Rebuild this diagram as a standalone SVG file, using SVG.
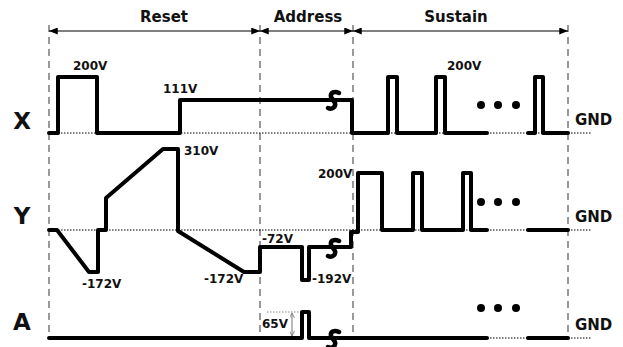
<svg xmlns="http://www.w3.org/2000/svg" width="623" height="347" viewBox="0 0 623 347">
<style>
.sig{fill:none;stroke:#000;stroke-width:4;stroke-linejoin:round;stroke-linecap:round}
.gnd{stroke:#000;stroke-width:1;stroke-dasharray:1.5 1.5;fill:none}
.vd{stroke:#808080;stroke-width:1.6;stroke-dasharray:7 5;fill:none}
.ph{stroke:#000;stroke-width:1.2;fill:none}
.t{font-family:"DejaVu Sans",Verdana,sans-serif;font-weight:bold;fill:#111}
.hdr{font-size:15px}
.row{font-size:23px}
.v{font-size:12px}
.g{font-size:15px}
.brk{fill:none;stroke:#000;stroke-width:4.5;stroke-linecap:round;stroke-linejoin:round}
.dot{fill:#000}
</style>
<defs>
<marker id="ah" viewBox="0 0 10 8" refX="10" refY="4" markerWidth="9" markerHeight="7" markerUnits="userSpaceOnUse" orient="auto-start-reverse">
<path d="M0,0 L10,4 L0,8 Z" fill="#000"/>
</marker>
<marker id="sa" viewBox="0 0 6 6" refX="6" refY="3" markerWidth="5" markerHeight="5" markerUnits="userSpaceOnUse" orient="auto-start-reverse">
<path d="M0,0 L6,3 L0,6" fill="none" stroke="#777" stroke-width="1"/>
</marker>
<path id="brk" class="brk" d="M6,-7 C2,-9 -3,-8 -2,-3 L2,3 C3,7 -1,10 -5,8"/>
</defs>

<g id="phases">
<line class="vd" x1="49" y1="25" x2="49" y2="338"/>
<line class="vd" x1="260" y1="25" x2="260" y2="338"/>
<line class="vd" x1="353" y1="25" x2="353" y2="338"/>
<line class="vd" x1="568" y1="25" x2="568" y2="338"/>
<line class="ph" x1="49" y1="31" x2="260" y2="31" marker-start="url(#ah)" marker-end="url(#ah)"/>
<line class="ph" x1="260" y1="31" x2="353" y2="31" marker-start="url(#ah)" marker-end="url(#ah)"/>
<line class="ph" x1="353" y1="31" x2="568" y2="31" marker-start="url(#ah)" marker-end="url(#ah)"/>
<text class="t hdr" x="164" y="22" text-anchor="middle">Reset</text>
<text class="t hdr" x="308" y="22" text-anchor="middle">Address</text>
<text class="t hdr" x="456" y="22" text-anchor="middle">Sustain</text>
</g>

<g id="gnd-lines">
<line class="gnd" x1="49" y1="133" x2="592" y2="133"/>
<line class="gnd" x1="49" y1="230" x2="592" y2="230"/>
<line class="gnd" x1="487" y1="338" x2="592" y2="338"/>
<text class="t g" x="575" y="125">GND</text>
<text class="t g" x="575" y="222">GND</text>
<text class="t g" x="575" y="330">GND</text>
</g>

<g id="X">
<text class="t row" x="22" y="129" text-anchor="middle">X</text>
<path class="sig" d="M49,133 H58 V77 H97 V133 H180 V100 H352 V133 H388 V77 H397 V133 H436 V77 H445 V133 H487"/>
<path class="sig" d="M528,133 H535 V77 H543 V133 H568"/>
<use href="#brk" x="333" y="100"/>
<circle class="dot" cx="481" cy="105" r="4"/>
<circle class="dot" cx="498" cy="105" r="4"/>
<circle class="dot" cx="516" cy="105" r="4"/>
<text class="t v" x="73" y="70">200V</text>
<text class="t v" x="163" y="93">111V</text>
<text class="t v" x="447" y="70">200V</text>
</g>

<g id="Y">
<text class="t row" x="22" y="224" text-anchor="middle">Y</text>
<path class="sig" d="M49,230 H57 L89,272 H98 V230 H106 V198 L163,149 H178 V231 L244,272 H260 V247 H302 V280 H309 V247 H351 V232 H358 V173 H382 V230 H413 V173 H422 V230 H463 V173 H471 V230 H487"/>
<path class="sig" d="M528,230 H568"/>
<use href="#brk" x="333" y="248"/>
<circle class="dot" cx="481" cy="202" r="4"/>
<circle class="dot" cx="498" cy="202" r="4"/>
<circle class="dot" cx="516" cy="202" r="4"/>
<text class="t v" x="184" y="155">310V</text>
<text class="t v" x="82" y="288">-172V</text>
<text class="t v" x="204" y="283">-172V</text>
<text class="t v" x="262" y="243">-72V</text>
<text class="t v" x="312" y="283">-192V</text>
<text class="t v" x="318" y="178">200V</text>
</g>

<g id="A">
<text class="t row" x="22" y="330" text-anchor="middle">A</text>
<path class="sig" d="M49,338 H302 V312 H309 V338 H487"/>
<path class="sig" d="M528,338 H568"/>
<use href="#brk" x="333" y="339"/>
<circle class="dot" cx="481" cy="308" r="4"/>
<circle class="dot" cx="498" cy="308" r="4"/>
<circle class="dot" cx="516" cy="308" r="4"/>
<line x1="267" y1="312" x2="300" y2="312" stroke="#888" stroke-width="1" stroke-dasharray="1.5 1.5"/>
<line x1="292" y1="313" x2="292" y2="336" stroke="#777" stroke-width="1" marker-start="url(#sa)" marker-end="url(#sa)"/>
<text class="t v" x="262" y="328">65V</text>
</g>
</svg>
